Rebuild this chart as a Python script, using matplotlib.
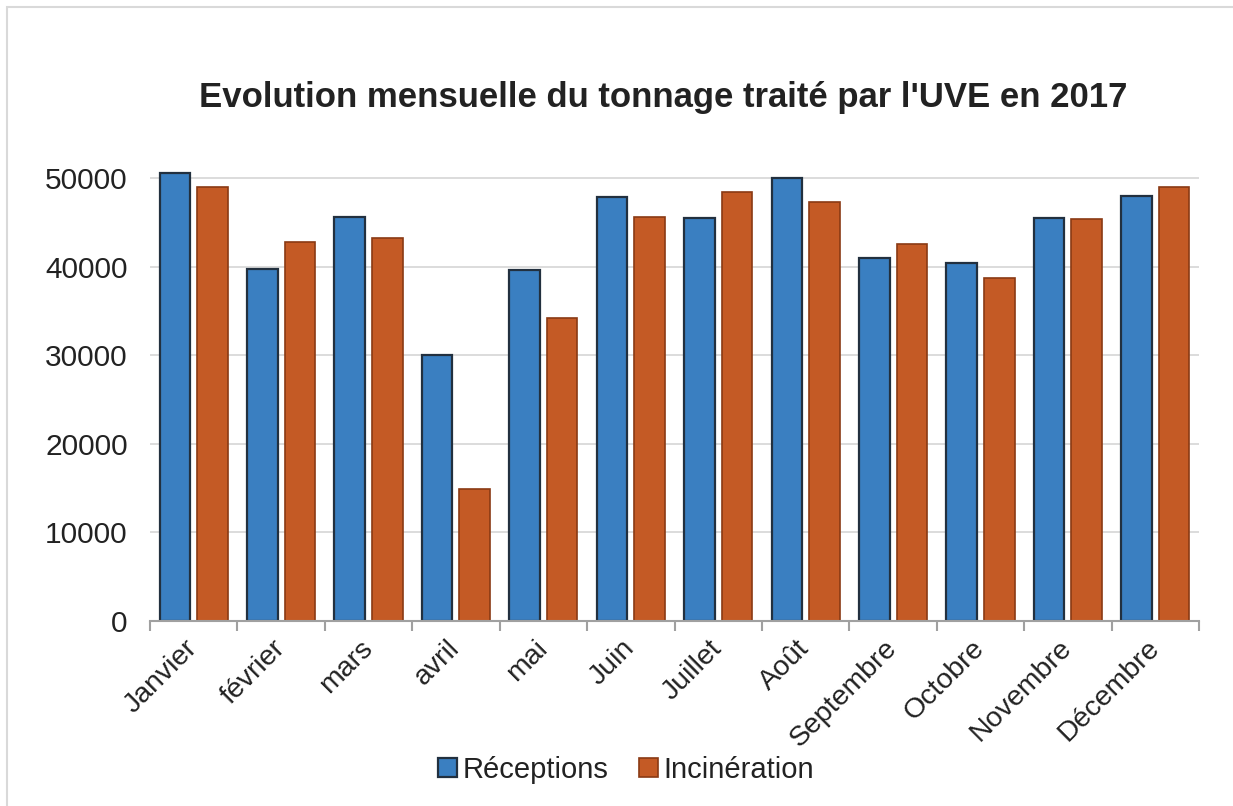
import numpy as np
import matplotlib.pyplot as plt
from matplotlib.patches import Rectangle, Patch

plt.rcParams['font.family'] = ['Liberation Sans', 'DejaVu Sans']

mois = ['Janvier', 'février', 'mars', 'avril', 'mai', 'Juin', 'Juillet',
        'Août', 'Septembre', 'Octobre', 'Novembre', 'Décembre']
receptions = [50600, 39700, 45600, 30000, 39600, 47900, 45500,
              50000, 41000, 40400, 45500, 48000]
incineration = [49000, 42800, 43200, 14900, 34200, 45600, 48400,
                47300, 42600, 38700, 45400, 49000]
yticks = [0, 10000, 20000, 30000, 40000, 50000]

bleu = '#3A7FC1'
orange = '#C45A25'

fig = plt.figure(figsize=(12.33, 8.06), dpi=100)
# cadre gris du graphique (coupé à droite et en bas)
fig.patches.append(Rectangle((7 / 1233, -0.05), 1.2, 1 - 7 / 806 + 0.05,
                             transform=fig.transFigure, fill=False,
                             edgecolor='#D9D9D9', linewidth=1.5))

ax = fig.add_axes([0.1217, 0.2298, 0.8507, 0.582])
x = np.arange(len(mois))
ax.bar(x - 0.215, receptions, width=0.35, color=bleu, edgecolor='#22303F',
       linewidth=1.6, zorder=3)
ax.bar(x + 0.215, incineration, width=0.35, color=orange, edgecolor='#8A3A14',
       linewidth=1.2, zorder=3)

ax.set_xlim(-0.5, 11.5)
ax.set_ylim(0, 53000)
ax.set_yticks(yticks)
ax.set_yticklabels([str(v) for v in yticks])
ax.yaxis.grid(True, color='#D9D9D9', linewidth=1.3, zorder=0)
ax.tick_params(axis='y', length=0, pad=16, labelsize=21.5, labelcolor='#222222')

# graduations entre les groupes, étiquettes au centre
ax.set_xticks(np.arange(13) - 0.5)
ax.set_xticklabels([])
ax.tick_params(axis='x', which='major', length=7, width=1.5, color='#A0A0A0')
ax.set_xticks(x, minor=True)
ax.set_xticklabels(mois, minor=True, rotation=45, ha='right', va='center',
                   rotation_mode='anchor', fontsize=20.5, color='#222222')
ax.tick_params(axis='x', which='minor', length=0, pad=17)

for s in ['top', 'right', 'left']:
    ax.spines[s].set_visible(False)
ax.spines['bottom'].set_color('#A0A0A0')
ax.spines['bottom'].set_linewidth(1.5)
ax.spines['bottom'].set_zorder(4)

fig.text(663 / 1233, 1 - 97 / 806,
         "Evolution mensuelle du tonnage traité par l'UVE en 2017",
         ha='center', va='center', fontsize=25, fontweight='bold',
         color='#222222')

handles = [Patch(facecolor=bleu, edgecolor='#22303F', linewidth=1.6),
           Patch(facecolor=orange, edgecolor='#8A3A14', linewidth=1.2)]
fig.legend(handles, ['Réceptions', 'Incinération'], loc='center',
           bbox_to_anchor=(626 / 1233, 1 - 770 / 806), ncol=2, frameon=False,
           fontsize=21, handlelength=0.65, handleheight=0.65,
           handletextpad=0.2, columnspacing=1.05, labelcolor='#222222')

fig.savefig('out.png', dpi=100)
